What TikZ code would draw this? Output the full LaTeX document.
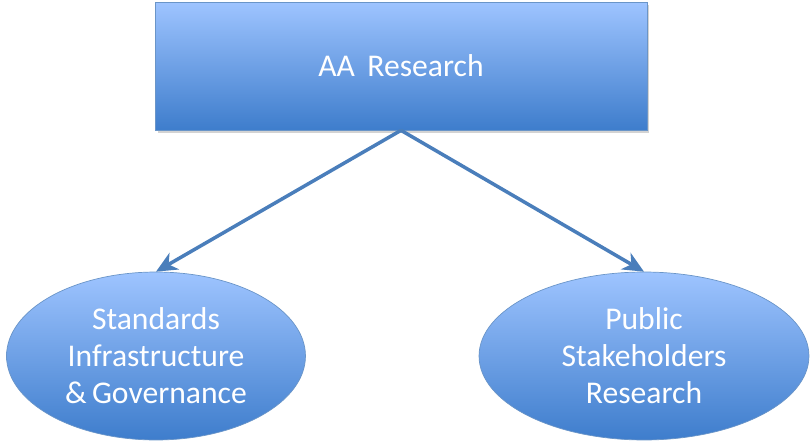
\documentclass[tikz,border=0pt]{standalone}
\usepackage{fontspec}
\setmainfont{Carlito}
\usetikzlibrary{shapes.geometric}
\usetikzlibrary{arrows.meta}
\usetikzlibrary{shadows}
\definecolor{boxtop}{HTML}{9EC4FF}
\definecolor{boxbottom}{HTML}{3E7DCC}
\definecolor{boxline}{HTML}{6A95C8}
\definecolor{arrowblue}{HTML}{4A7EBB}

\begin{document}
\begin{tikzpicture}[x=0.02cm, y=-0.02cm,
		topbox/.style={rectangle, draw=boxline, top color=boxtop, bottom color=boxbottom, minimum width=9.84cm, minimum height=2.56cm, text=white, font=\fontsize{18}{21}\selectfont, drop shadow={shadow xshift=0.5mm, shadow yshift=-0.6mm, opacity=0.35}},
		topic/.style={ellipse, draw=boxline, top color=boxtop, bottom color=boxbottom, text=white, align=center, inner sep=0pt, font=\fontsize{18}{21}\selectfont},
		link/.style={-{Stealth[length=4.2mm, width=3.8mm, inset=1.3mm]}, draw=arrowblue, line width=2pt}]
			\useasboundingbox (0,0) rectangle (812,443);
			\node[topbox] (research) at (401,66) {AA\, Research};
			\node[topic, minimum width=5.98cm, minimum height=3.36cm] (standards) at (156,356) {Standards\\Infrastructure\\\&\,Governance};
			\node[topic, minimum width=6.6cm, minimum height=3.36cm] (public) at (644,356) {Public\\Stakeholders\\Research};
			\draw[link] (research.south) -- (standards.north);
			\draw[link] (research.south) -- (public.north);
		\end{tikzpicture}
\end{document}
